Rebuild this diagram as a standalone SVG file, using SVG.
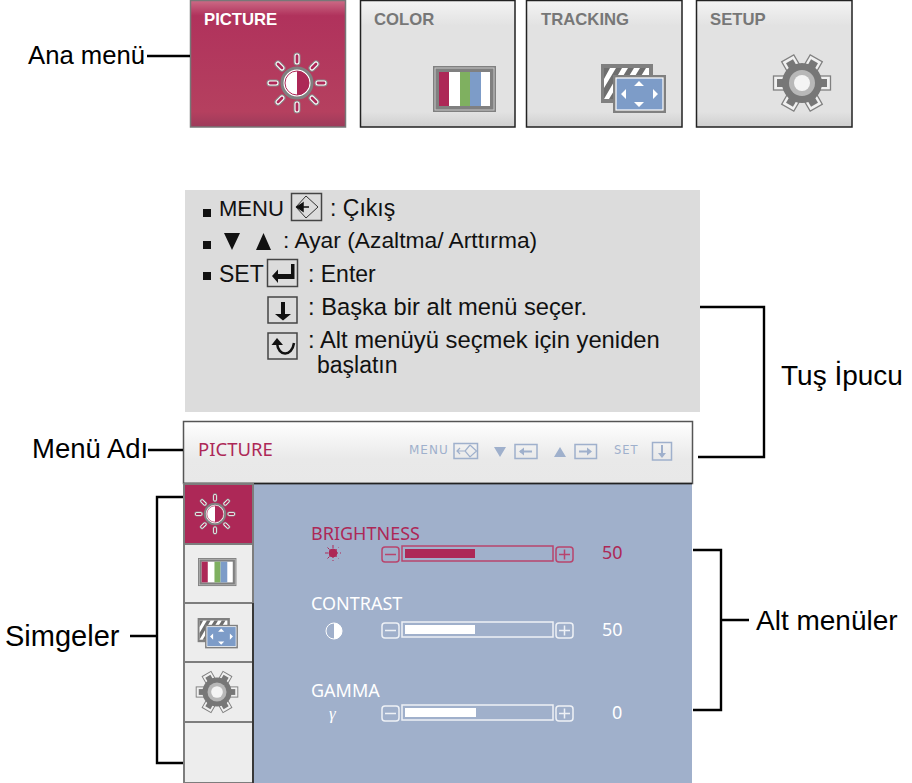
<svg xmlns="http://www.w3.org/2000/svg" width="912" height="783" viewBox="0 0 912 783">
<style>
.lb{font:28px "Liberation Sans",Arial,sans-serif;fill:#000}
.k{font:23px "Liberation Sans",Arial,sans-serif;fill:#111}
.tt{font:bold 16.700px "Liberation Sans",Arial,sans-serif;fill:#777}
.m{font:18px "Noto Sans",sans-serif;fill:#fff}
.red{fill:#ad2857}
.hk{font:12px "DejaVu Sans",sans-serif;fill:#9fb0cc;letter-spacing:1px}
.con{fill:none;stroke:#000;stroke-width:2.400}
.tile{stroke:#777;stroke-width:1.500}
.gt{stroke:#222;stroke-width:1.500}
.cell{fill:#ededed;stroke:#7d7d7d;stroke-width:2}
.key{fill:none;stroke:#444;stroke-width:1.500}
.hkb{fill:none;stroke:#9fb0cc;stroke-width:1.500}
.bw{fill:none;stroke-width:1.500}
</style>
<defs>
<linearGradient id="gr" x1="0" y1="0" x2="0" y2="1"><stop offset="0" stop-color="#f4f4f4"/><stop offset=".2" stop-color="#e2e2e2"/><stop offset=".88" stop-color="#e2e2e2"/><stop offset="1" stop-color="#cfcfcf"/></linearGradient>
<linearGradient id="rd" x1="0" y1="0" x2="0" y2="1"><stop offset="0" stop-color="#cc6b86"/><stop offset=".12" stop-color="#b0325c"/><stop offset=".88" stop-color="#b5405f"/><stop offset="1" stop-color="#9c3a5a"/></linearGradient>
<linearGradient id="hd" x1="0" y1="0" x2="0" y2="1"><stop offset="0" stop-color="#fff"/><stop offset=".6" stop-color="#e9e9e9"/><stop offset="1" stop-color="#e8e8e8"/></linearGradient>
<path id="rays" d="M0-27V-21M0 27V21M-27 0H-21M27 0H21M-19-19L-15-15M19 19L15 15M-19 19L-15 15M19-19L15-15" fill="none" stroke-linecap="round"/>
<g id="sun">
<use href="#rays" stroke="#8a8a8a" stroke-width="7"/>
<use href="#rays" stroke="#fff" stroke-width="5"/>
<use href="#rays" stroke="#ad2857" stroke-width="2.800"/>
<circle r="15" fill="#fff" stroke="#808080" stroke-width="3"/>
<path d="M0-12A12 12 0 0 1 0 12Z" fill="#ad2857"/>
<circle r="12" fill="none" stroke="#ad2857" stroke-width="1"/>
</g>
<g id="col">
<rect x="0" y="0" width="63" height="46" fill="#808080"/>
<rect x="2" y="2" width="59" height="42" fill="none" stroke="#c8c8c8" stroke-width="1"/>
<rect x="6" y="6" width="51" height="34" fill="#fff"/>
<rect x="6" y="6" width="10" height="34" fill="#ad2857"/>
<rect x="27" y="6" width="10" height="34" fill="#7fb060"/>
<rect x="37" y="6" width="11" height="34" fill="#7d9cc8"/>
</g>
<g id="trk">
<rect x="1" y="0" width="52" height="39" fill="#808080"/>
<rect x="4" y="4" width="45" height="31" fill="#fff"/>
<path d="M4 4H10L4 15ZM16 4H22L4 35V24ZM28 4H34L15 35H9ZM40 4H46L27 35H21Z" fill="#6e6e6e"/>
<rect x="13" y="11" width="53" height="38" fill="#808080"/>
<rect x="16" y="14" width="47" height="32" fill="#7d9cc8" stroke="#fff" stroke-width="1.200"/>
<path d="M39 17L44 22H34ZM39 43L44 38H34ZM21 30L26 25V35ZM58 30L53 25V35Z" fill="#fff"/>
</g>
<g id="tooth"><rect x="-7" y="-28.500" width="14" height="11" fill="#f0f0f0" stroke="#808080" stroke-width="1.300"/><rect x="-4" y="-25" width="8" height="8" fill="#777"/></g>
<g id="gear">
<use href="#tooth" transform="rotate(30)"/><use href="#tooth" transform="rotate(90)"/><use href="#tooth" transform="rotate(150)"/><use href="#tooth" transform="rotate(210)"/><use href="#tooth" transform="rotate(270)"/><use href="#tooth" transform="rotate(330)"/>
<circle r="20" fill="#777"/>
<circle r="13" fill="#b8b8b8"/>
<circle r="8" fill="#f4f4f4"/>
</g>
<g id="bar">
<rect x="0" y="1" width="17" height="15" rx="3" class="bw"/>
<rect x="20" y="0" width="151" height="15" class="bw"/>
<rect x="174" y="1" width="17" height="15" rx="3" class="bw"/>
<path d="M3 8.500H14M177 8.500H188M182.500 3.500V13.500" class="bw"/>
</g>
</defs>

<g id="menu-picture"><rect class="tile" x="190.500" y=".5" width="155" height="126.500" fill="url(#rd)"/><text x="204" y="24.500" class="tt" style="fill:#fff">PICTURE</text><use href="#sun" x="297" y="83"/></g>
<g id="menu-color"><rect class="gt" x="360.500" y=".5" width="154.500" height="126.500" fill="url(#gr)"/><text x="374" y="24.500" class="tt">COLOR</text><use href="#col" x="433" y="66"/></g>
<g id="menu-tracking"><rect class="gt" x="526.500" y=".5" width="155.500" height="126.500" fill="url(#gr)"/><text x="541" y="24.500" class="tt">TRACKING</text><use href="#trk" x="600" y="64"/></g>
<g id="menu-setup"><rect class="gt" x="696.500" y=".5" width="155.500" height="126.500" fill="url(#gr)"/><text x="710" y="24.500" class="tt">SETUP</text><use href="#gear" x="802" y="83"/></g>

<g id="key-help">
<rect x="185" y="190" width="515" height="222" fill="#dcdcdc"/>
<rect x="203" y="209" width="8" height="8" fill="#111"/><rect x="203" y="241" width="8" height="8" fill="#111"/><rect x="203" y="272" width="8" height="8" fill="#111"/>
<text class="k" x="219" y="216" style="font-size:22px">MENU</text>
<rect class="key" x="291.500" y="193.500" width="30" height="27"/>
<path d="M306 196L318 207L306 218L296 207Z" fill="none" stroke="#333" stroke-width="1"/><path d="M299 207H309M303 203L297 207L303 211Z" fill="#111" stroke="#111" stroke-width="1.500"/>
<text class="k" x="330" y="216">: Çıkış</text>
<path d="M224 233H240L232 250ZM263.500 233L256 250H271Z" fill="#111"/>
<text class="k" x="283" y="248" style="font-size:22.800px">: Ayar (Azaltma/ Arttırma)</text>
<text class="k" x="219" y="282">SET</text>
<rect class="key" x="267.500" y="259.500" width="30" height="27"/>
<path d="M291 264H294.500V279H278V283L272 276L278 269.500V274H291Z" fill="#111"/>
<text class="k" x="308" y="282">: Enter</text>
<rect class="key" x="268" y="297" width="29" height="26"/>
<path d="M281 302H285V314H291L283 320.500L275 314H281Z" fill="#111"/>
<text class="k" x="308" y="315" style="font-size:23.700px">: Başka bir alt menü seçer.</text>
<rect class="key" x="268" y="333" width="29" height="26"/>
<path d="M277 343C278 357 292 357 294 343" fill="none" stroke="#111" stroke-width="2.500"/><path d="M277 338L271.500 345H283Z" fill="#111"/>
<text class="k" x="308" y="348" style="font-size:23.800px">: Alt menüyü seçmek için yeniden</text>
<text class="k" x="317" y="373">başlatın</text>
</g>

<g id="monitor">
<rect x="183" y="421" width="509" height="362" fill="#a0b0cb"/>
<rect x="183.500" y="421.500" width="509" height="62" fill="url(#hd)" stroke="#555" stroke-width="1.500"/>
<path d="M184 483.500H692" stroke="#222" stroke-width="1.500"/>
<text x="198" y="456" class="m red" style="font-size:18.500px">PICTURE</text>
<text x="409" y="454" class="hk">MENU</text>
<rect class="hkb" x="454" y="443.500" width="23.500" height="15"/>
<path d="M457 451H465M460 448L457 451L460 454M470 445L476.500 451L470 457L465 451L470 445" fill="none" stroke="#9fb0cc" stroke-width="1.200"/>
<path d="M494 447H506L500 457ZM560 447L554 457H566Z" fill="#9fb0cc"/>
<rect class="hkb" x="515" y="444.500" width="22" height="14"/>
<path d="M520 451.500H532" stroke="#9fb0cc" stroke-width="2"/><path d="M519 451.500L524 447.500V455.500Z" fill="#9fb0cc"/>
<rect class="hkb" x="575" y="444.500" width="21.500" height="14"/>
<path d="M579 451.500H590" stroke="#9fb0cc" stroke-width="2"/><path d="M592 451.500L587 447.500V455.500Z" fill="#9fb0cc"/>
<text x="614" y="454" class="hk" style="font-size:11.500px">SET</text>
<rect class="hkb" x="652.500" y="442.500" width="19" height="17.500"/>
<path d="M662 445V454" stroke="#9fb0cc" stroke-width="2"/><path d="M658 453H666L662 458Z" fill="#9fb0cc"/>
</g>

<g id="sidebar">
<rect class="cell" x="184" y="484" width="69" height="60" style="fill:#ad2857"/>
<rect class="cell" x="184" y="544" width="69" height="59"/>
<rect class="cell" x="184" y="603" width="69" height="59"/>
<rect class="cell" x="184" y="662" width="69" height="60"/>
<rect class="cell" x="184" y="722" width="69" height="61"/>
<path d="M253 603V783" stroke="#222" stroke-width="1.500"/>
<use href="#sun" transform="translate(215 514) scale(.68)"/>
<use href="#col" transform="translate(198 558) scale(.61)"/>
<use href="#trk" transform="translate(197 618) scale(.62)"/>
<use href="#gear" transform="translate(217 692) scale(.73)"/>
</g>

<g id="brightness">
<text x="311" y="540" class="m red">BRIGHTNESS</text>
<g fill="#ad2857" stroke="#ad2857"><circle cx="333" cy="553" r="4"/><path d="M333 545V561M325 553H341M327.500 547.500L338.500 558.500M327.500 558.500L338.500 547.500" stroke-width="1" stroke-dasharray="3 2"/></g>
<use href="#bar" x="382" y="546" stroke="#b8446d"/>
<rect x="405" y="549" width="70" height="9" fill="#ad2857"/>
<text x="602" y="559" class="m red">50</text>
</g>
<g id="contrast">
<text x="311" y="610" class="m">CONTRAST</text>
<circle cx="334" cy="631" r="8" fill="#a0b0cb" stroke="#fff" stroke-width="1"/><path d="M334 623A8 8 0 0 1 334 639Z" fill="#fff"/>
<use href="#bar" x="382" y="622" stroke="#eef1f6"/>
<rect x="405" y="625" width="70" height="9" fill="#fff"/>
<text x="602" y="636" class="m">50</text>
</g>
<g id="gamma">
<text x="311" y="697" class="m">GAMMA</text>
<text x="329" y="719" style="font:italic 17px 'Liberation Serif',serif;fill:#fff">γ</text>
<use href="#bar" x="382" y="705" stroke="#eef1f6"/>
<rect x="405" y="708" width="71" height="9" fill="#fff"/>
<text x="612" y="719" class="m">0</text>
</g>

<g id="connectors">
<path class="con" d="M147 56H190"/>
<path class="con" d="M700 307H764V457H698"/>
<path class="con" d="M148 450H183"/>
<path class="con" d="M183 497H157V763H183M130 636H157"/>
<path class="con" d="M693 550H721V710H693M721 620H749"/>
</g>
<g id="labels">
<text class="lb" x="28" y="64" style="font-size:25.700px">Ana menü</text>
<text class="lb" x="781" y="385">Tuş İpucu</text>
<text class="lb" x="32" y="458" style="font-size:27.500px">Menü Adı</text>
<text class="lb" x="5" y="646" style="font-size:29px">Simgeler</text>
<text class="lb" x="756" y="630">Alt menüler</text>
</g>
</svg>
